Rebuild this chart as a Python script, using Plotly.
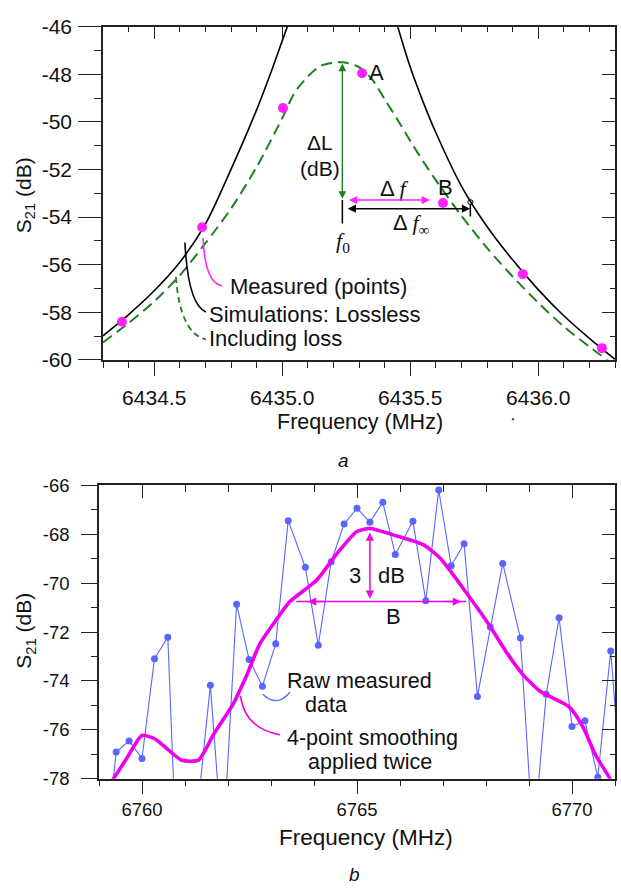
import numpy as np
import plotly.graph_objects as go

# ---------------- Panel a data ----------------
LOSSLESS_LEFT_F = [6434.30, 6434.40, 6434.50, 6434.60, 6434.70, 6434.80, 6434.90, 6434.95, 6435.00, 6435.03]
LOSSLESS_LEFT_DB = [-58.99, -58.10, -57.10, -55.90, -54.30, -52.00, -49.50, -48.10, -46.60, -45.70]
LOSSLESS_RIGHT_F = [6435.44, 6435.50, 6435.55, 6435.60, 6435.70, 6435.80, 6435.90, 6436.00, 6436.10, 6436.20, 6436.30]
LOSSLESS_RIGHT_DB = [-45.60, -47.70, -49.15, -50.45, -52.70, -54.40, -55.80, -57.05, -58.15, -59.10, -59.98]

LOSS_F = [6434.30, 6434.40, 6434.50, 6434.60, 6434.70, 6434.80, 6434.90, 6435.00, 6435.05, 6435.10,
          6435.15, 6435.20, 6435.24, 6435.30, 6435.35, 6435.40, 6435.45, 6435.50, 6435.55, 6435.60,
          6435.70, 6435.80, 6435.90, 6436.00, 6436.10, 6436.20, 6436.30]
LOSS_DB = [-59.27, -58.45, -57.55, -56.45, -55.10, -53.65, -51.90, -49.85, -48.75, -48.10,
           -47.65, -47.52, -47.50, -47.70, -48.20, -49.05, -49.90, -50.80, -51.65, -52.45,
           -53.95, -55.30, -56.50, -57.60, -58.60, -59.45, -60.25]

MEAS_F = [6434.374, 6434.687, 6435.003, 6435.312, 6435.628, 6435.940, 6436.249]
MEAS_DB = [-58.40, -54.43, -49.42, -47.96, -53.41, -56.40, -59.51]

A_X_TICKS = [6434.5, 6435.0, 6435.5, 6436.0]
A_X_TICKTEXT = ["6434.5", "6435.0", "6435.5", "6436.0"]
A_Y_TICKS = [-60, -58, -56, -54, -52, -50, -48, -46]
A_Y_TICKTEXT = ["-60", "-58", "-56", "-54", "-52", "-50", "-48", "-46"]

# ---------------- Panel b data ----------------
RAW_F = [6759.09, 6759.40, 6759.70, 6760.00, 6760.29, 6760.60, 6760.90, 6761.25, 6761.59, 6761.88,
         6762.20, 6762.49, 6762.80, 6763.11, 6763.40, 6763.80, 6764.10, 6764.40, 6764.70, 6765.00,
         6765.30, 6765.60, 6765.89, 6766.30, 6766.60, 6766.90, 6767.19, 6767.49, 6767.80, 6768.10,
         6768.39, 6768.80, 6769.10, 6769.40, 6769.70, 6770.00, 6770.30, 6770.60, 6770.90, 6771.20]
RAW_DB = [-82.0, -76.91, -76.45, -77.17, -73.09, -72.21, -85.5, -80.0, -74.17, -81.0,
          -70.86, -73.12, -74.21, -72.48, -67.44, -69.35, -72.54, -69.12, -67.58, -66.93,
          -67.50, -66.69, -68.82, -67.46, -70.72, -66.18, -69.28, -68.38, -74.63, -71.79,
          -69.19, -72.24, -80.6, -74.54, -71.41, -75.86, -75.63, -77.94, -72.77, -79.5]

SMOOTH_F = [6759.30, 6759.65, 6760.00, 6760.30, 6760.60, 6760.92, 6761.31, 6761.66, 6762.12, 6762.45,
            6762.74, 6763.10, 6763.44, 6764.06, 6764.52, 6764.99, 6765.30, 6765.84, 6766.54, 6766.92,
            6767.58, 6768.09, 6768.47, 6768.86, 6769.25, 6769.56, 6769.94, 6770.25, 6770.56, 6770.86, 6770.95]
SMOOTH_DB = [-78.1, -77.15, -76.23, -76.37, -76.80, -77.24, -77.24, -76.20, -74.94, -73.70,
             -72.48, -71.55, -70.75, -69.88, -68.82, -67.89, -67.76, -68.02, -68.42, -68.95,
             -70.48, -71.75, -72.81, -73.74, -74.41, -74.70, -75.07, -75.87, -77.07, -77.93, -78.3]

B_X_TICKS = [6760, 6765, 6770]
B_X_TICKTEXT = ["6760", "6765", "6770"]
B_Y_TICKS = [-78, -76, -74, -72, -70, -68, -66]
B_Y_TICKTEXT = ["-78", "-76", "-74", "-72", "-70", "-68", "-66"]

# ---------------- styling ----------------
FONT = "Liberation Sans, Arial, sans-serif"
SERIF = "Liberation Serif"
AXC = "#222222"
GREEN = "#1e7f1e"
MAG = "#ff22ff"
MAG2 = "#ee00ee"
BLUE = "#5866ff"

W, H = 621, 894
A_XD = [103 / W, 615 / W]
A_YD = [1 - 357 / H, 1 - 15 / H]
B_XD = [99 / W, 615 / W]
B_YD = [1 - 787 / H, 1 - 486 / H]
A_XR = [6434.3, 6436.3]
A_YR = [-60, -46]
B_XR = [6759.0, 6771.0]
B_YR = [-78, -66]

A_X_MINOR = [round(v, 2) for v in np.arange(6434.3, 6436.31, 0.1) if all(abs(v - t) > 1e-6 for t in A_X_TICKS)]
A_Y_MINOR = [v for v in range(-59, -46, 2)]
B_X_MINOR = [v for v in range(6759, 6772) if v not in B_X_TICKS]
B_Y_MINOR = [v for v in range(-77, -66, 2)]

fig = go.Figure()

fig.add_trace(go.Scatter(x=LOSSLESS_LEFT_F + [None] + LOSSLESS_RIGHT_F,
                         y=LOSSLESS_LEFT_DB + [None] + LOSSLESS_RIGHT_DB,
                         mode="lines", line=dict(color="black", width=1.6, shape="spline", smoothing=0.8),
                         xaxis="x", yaxis="y", showlegend=False, hoverinfo="skip"))
fig.add_trace(go.Scatter(x=LOSS_F, y=LOSS_DB, mode="lines",
                         line=dict(color=GREEN, width=2, dash="11px,6px", shape="spline", smoothing=0.8),
                         xaxis="x", yaxis="y", showlegend=False, hoverinfo="skip"))
fig.add_trace(go.Scatter(x=MEAS_F, y=MEAS_DB, mode="markers",
                         marker=dict(color=MAG, size=10, line=dict(width=0)),
                         xaxis="x", yaxis="y", showlegend=False, hoverinfo="skip"))

fig.add_trace(go.Scatter(x=RAW_F, y=RAW_DB, mode="lines+markers",
                         line=dict(color=BLUE, width=1.1),
                         marker=dict(color=BLUE, size=7),
                         xaxis="x2", yaxis="y2", showlegend=False, hoverinfo="skip"))
fig.add_trace(go.Scatter(x=SMOOTH_F, y=SMOOTH_DB, mode="lines",
                         line=dict(color=MAG2, width=3.6, shape="spline", smoothing=0.6),
                         xaxis="x2", yaxis="y2", showlegend=False, hoverinfo="skip"))

# dummy traces for mirrored tick axes
fig.add_trace(go.Scatter(x=[], y=[], xaxis="x3", yaxis="y3", showlegend=False, hoverinfo="skip"))
fig.add_trace(go.Scatter(x=[], y=[], xaxis="x4", yaxis="y4", showlegend=False, hoverinfo="skip"))


def axis(domain, rng, anchor, side, ticks, ticklen, mticklen, tickvals, ticktext, minorvals,
         fontsize, standoff, labels=True, overlaying=None):
    d = dict(domain=domain, range=rng, autorange=False, anchor=anchor, side=side,
             showline=True, linecolor=AXC, linewidth=1.6, showgrid=False, zeroline=False,
             ticks=ticks, ticklen=ticklen, tickwidth=1.4, tickcolor=AXC,
             tickmode="array", tickvals=tickvals, ticktext=ticktext,
             showticklabels=labels, tickfont=dict(family=FONT, size=fontsize, color="#111"),
             ticklabelstandoff=standoff,
             minor=dict(ticks=ticks, ticklen=mticklen, tickwidth=1.4, tickcolor=AXC,
                        tickmode="array", tickvals=minorvals, showgrid=False))
    if overlaying:
        d["overlaying"] = overlaying
    return d


fig.update_layout(
    width=W, height=H, autosize=False,
    margin=dict(l=0, r=0, t=0, b=0),
    paper_bgcolor="white", plot_bgcolor="white",
    xaxis=axis(A_XD, A_XR, "y", "bottom", "outside", 14, 6, A_X_TICKS, A_X_TICKTEXT, A_X_MINOR, 21, 4),
    yaxis=axis(A_YD, A_YR, "x", "left", "outside", 23, 7, A_Y_TICKS, A_Y_TICKTEXT, A_Y_MINOR, 21, 2),
    xaxis3=axis(A_XD, A_XR, "y3", "top", "inside", 13, 6, A_X_TICKS, A_X_TICKTEXT, A_X_MINOR, 21, 0,
                labels=False, overlaying="x"),
    yaxis3=axis(A_YD, A_YR, "x3", "right", "inside", 13, 5, A_Y_TICKS, A_Y_TICKTEXT, A_Y_MINOR, 21, 0,
                labels=False, overlaying="y"),
    xaxis2=axis(B_XD, B_XR, "y2", "bottom", "outside", 13, 5, B_X_TICKS, B_X_TICKTEXT, B_X_MINOR, 18.5, 0),
    yaxis2=axis(B_YD, B_YR, "x2", "left", "outside", 16, 6, B_Y_TICKS, B_Y_TICKTEXT, B_Y_MINOR, 18.5, 8),
    xaxis4=axis(B_XD, B_XR, "y4", "top", "inside", 13, 7, B_X_TICKS, B_X_TICKTEXT, B_X_MINOR, 18.5, 0,
                labels=False, overlaying="x2"),
    yaxis4=axis(B_YD, B_YR, "x4", "right", "inside", 13, 5, B_Y_TICKS, B_Y_TICKTEXT, B_Y_MINOR, 18.5, 0,
                labels=False, overlaying="y2"),
)

ann = []


def txt(x, y, s, size=22, xref="x", yref="y", xanchor="center", yanchor="middle", angle=0, family=FONT):
    ann.append(dict(x=x, y=y, xref=xref, yref=yref, text=s, showarrow=False, xanchor=xanchor,
                    yanchor=yanchor, textangle=angle, font=dict(family=family, size=size, color="#111")))


def arrow(x0, y0, x1, y1, color, xref="x", yref="y", both=True, width=1.5, head=2, size=1.1):
    ann.append(dict(x=x1, y=y1, ax=x0, ay=y0, xref=xref, yref=yref, axref=xref, ayref=yref,
                    text="", showarrow=True, arrowhead=head, arrowsize=size, arrowwidth=width,
                    arrowcolor=color, arrowside="end+start" if both else "end",
                    startarrowhead=head, startarrowsize=size, standoff=0, startstandoff=0))


# axis titles
txt(25 / W, 1 - 188 / H, "S<sub>21</sub> (dB)", size=21, xref="paper", yref="paper", angle=-90)
txt(25 / W, 1 - 635 / H, "S<sub>21</sub> (dB)", size=21, xref="paper", yref="paper", angle=-90)
txt(360 / W, 1 - 421 / H, "Frequency (MHz)", size=21.5, xref="paper", yref="paper")
txt(366 / W, 1 - 847 / H, "Frequency (MHz)", size=22.5, xref="paper", yref="paper")
txt(343 / W, 1 - 460 / H, "<i>a</i>", size=19, xref="paper", yref="paper")
txt(354 / W, 1 - 885 / H, "<i>b</i>", size=19, xref="paper", yref="paper")

# panel a annotations
txt(6435.369, -47.91, "A")
txt(6435.636, -52.75, "B")
txt(6435.148, -50.88, "ΔL", size=21)
txt(6435.148, -51.95, "(dB)", size=21)
txt(6435.44, -52.82, f"Δ <span style='font-family:{SERIF}'><i>f</i></span>")
txt(6435.506, -54.30, f"Δ <span style='font-family:{SERIF}'><i>f</i><sub>∞</sub></span>")
txt(6435.239, -55.05, f"<span style='font-family:{SERIF}'><i>f</i><sub>0</sub></span>")
txt(6434.789, -56.92, "Measured (points)", xanchor="left")
txt(6434.708, -58.08, "Simulations: Lossless", xanchor="left")
txt(6434.708, -59.10, "Including loss", xanchor="left")

arrow(6435.235, -53.30, 6435.235, -47.55, GREEN, width=1.4)
arrow(6435.255, -53.29, 6435.577, -53.29, MAG, width=1.5)
arrow(6435.250, -53.65, 6435.734, -53.65, "black", width=1.5)

# panel b annotations
txt(6764.95, -69.68, "3", xref="x2", yref="y2")
txt(6765.80, -69.67, "dB", xref="x2", yref="y2")
txt(6765.84, -71.35, "B", xref="x2", yref="y2")
txt(6763.32, -74.00, "Raw measured", size=21.5, xref="x2", yref="y2", xanchor="left")
txt(6763.75, -74.98, "data", size=21.5, xref="x2", yref="y2", xanchor="left")
txt(6763.32, -76.32, "4-point smoothing", size=21.5, xref="x2", yref="y2", xanchor="left")
txt(6763.82, -77.33, "applied twice", size=21.5, xref="x2", yref="y2", xanchor="left")

arrow(6765.30, -70.70, 6765.30, -67.92, MAG2, xref="x2", yref="y2", width=1.5)
arrow(6764.30, -70.75, 6763.86, -70.75, MAG2, xref="x2", yref="y2", both=False, width=1.5)
arrow(6767.00, -70.75, 6767.42, -70.75, MAG2, xref="x2", yref="y2", both=False, width=1.5)

fig.update_layout(annotations=ann)

shapes = [
    # tick marks at f0 and f_inf
    dict(type="line", xref="x", yref="y", x0=6435.235, x1=6435.235, y0=-53.29, y1=-54.27,
         line=dict(color="black", width=1.5)),
    dict(type="line", xref="x", yref="y", x0=6435.735, x1=6435.735, y0=-53.45, y1=-53.98,
         line=dict(color="black", width=1.5)),
    dict(type="circle", xref="x", yref="y", x0=6435.725, x1=6435.745, y0=-53.47, y1=-53.27,
         line=dict(color="black", width=1)),
    # legend leaders panel a
    dict(type="path", xref="x", yref="y", path="M 6434.691,-54.88 Q 6434.698,-56.77 6434.765,-56.89",
         line=dict(color=MAG, width=1.6)),
    dict(type="path", xref="x", yref="y", path="M 6434.620,-55.07 Q 6434.632,-57.67 6434.702,-57.99",
         line=dict(color="black", width=1.6)),
    dict(type="path", xref="x", yref="y", path="M 6434.585,-56.52 Q 6434.601,-58.89 6434.702,-59.14",
         line=dict(color=GREEN, width=1.8, dash="6px,4px")),
    # B bandwidth line panel b
    dict(type="line", xref="x2", yref="y2", x0=6763.59, x1=6767.54, y0=-70.75, y1=-70.75,
         line=dict(color=MAG2, width=1.5)),
    # leaders panel b
    dict(type="path", xref="x2", yref="y2", path="M 6762.81,-74.54 Q 6763.14,-75.10 6763.44,-74.46",
         line=dict(color=BLUE, width=1.3)),
    dict(type="path", xref="x2", yref="y2", path="M 6762.29,-74.61 Q 6762.39,-75.94 6763.21,-76.20",
         line=dict(color=MAG2, width=1.5)),
    # small stray dot under the 6436.0 label
    dict(type="circle", xref="paper", yref="paper", x0=512 / W, x1=514 / W, y0=1 - 419 / H, y1=1 - 417 / H,
         line=dict(color="#444", width=0.5), fillcolor="#444"),
]
fig.update_layout(shapes=shapes)

# pin the figure to the window's top-left corner (no page margins / scrolling)
POST = ("document.documentElement.style.margin='0';document.body.style.margin='0';"
        "document.body.style.overflow='hidden';document.documentElement.style.overflow='hidden';"
        "var d=document.getElementById('{plot_id}');d.style.position='fixed';d.style.left='0px';d.style.top='0px';")

fig.write_html("out.html", post_script=POST, config={"displayModeBar": False})
